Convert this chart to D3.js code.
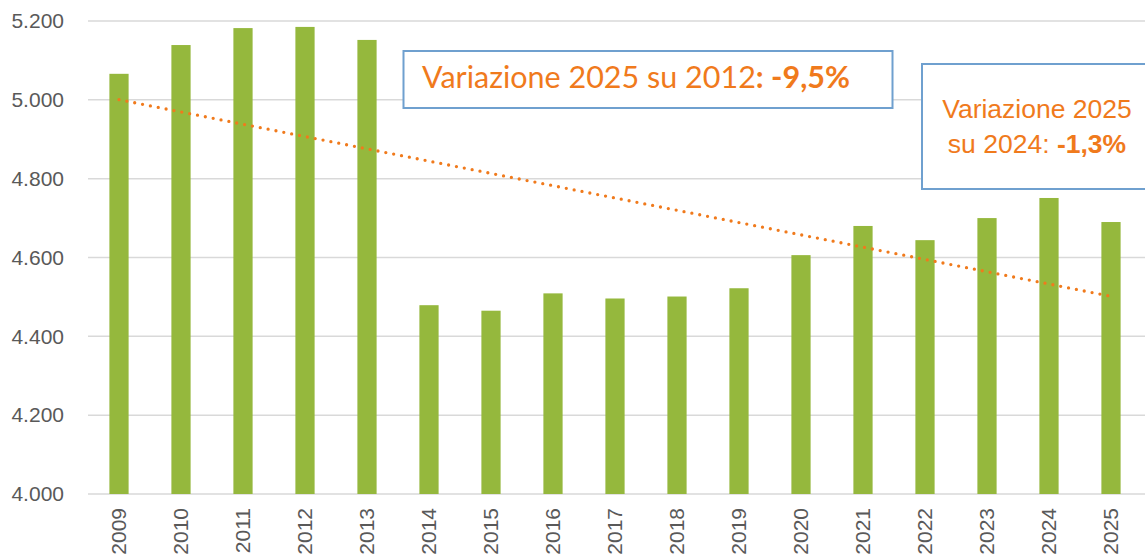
<!DOCTYPE html>
<html><head><meta charset="utf-8">
<script src="https://cdn.jsdelivr.net/npm/d3@7"></script>
<style>body{margin:0;background:#fff}svg{display:block}</style>
</head><body>
<svg id="c" width="1145" height="557"></svg>
<script>
const years = ["2009","2010","2011","2012","2013","2014","2015","2016","2017","2018","2019","2020","2021","2022","2023","2024","2025"];
const values = [5066,5139,5182,5185,5152,4479,4465,4509,4496,4501,4522,4606,4680,4644,4700,4751,4690];
const yTicks = [4000,4200,4400,4600,4800,5000,5200];
const note1 = ["Variazione 2025 su 2012", ": -9,5%"];
const note2 = ["Variazione 2025", "su 2024: ", "-1,3%"];

const W = 1145, H = 557;
const svg = d3.select("#c");
const x = d3.scaleBand().domain(years).range([88, 1142]).paddingInner(0.69).paddingOuter(0.345);
const y = d3.scaleLinear().domain([4000, 5200]).range([494, 21]);
const loc = d3.formatLocale({decimal: ",", thousands: ".", grouping: [3], currency: ["", "€"]});
const fmt = loc.format(",.0f");

// gridlines
svg.append("g").selectAll("line").data(yTicks).join("line")
  .attr("x1", 88).attr("x2", W).attr("y1", d => y(d)).attr("y2", d => y(d))
  .attr("stroke", "#d9d9d9").attr("stroke-width", 1.5);

// y axis labels
const yAxis = d3.axisLeft(y).tickValues(yTicks).tickFormat(fmt).tickSize(0).tickPadding(0);
const ya = svg.append("g").attr("transform", "translate(64,0)").call(yAxis);
ya.select(".domain").remove();
ya.selectAll("text").attr("font-family", "Liberation Sans, Arial, sans-serif").attr("font-size", 21).attr("fill", "#595959");

// bars
svg.append("g").selectAll("rect").data(values).join("rect")
  .attr("x", (d, i) => x(years[i])).attr("width", x.bandwidth())
  .attr("y", d => y(d)).attr("height", d => y(4000) - y(d))
  .attr("fill", "#95b83d");

// x axis labels
const xAxis = d3.axisBottom(x).tickSize(0).tickPadding(0);
const xa = svg.append("g").attr("transform", "translate(0,494)").call(xAxis);
xa.select(".domain").remove();
xa.selectAll("text").attr("font-family", "Liberation Sans, Arial, sans-serif").attr("font-size", 21).attr("fill", "#595959")
  .attr("transform", "rotate(-90)").attr("text-anchor", "end").attr("dy", "0.35em").attr("x", -14).attr("y", 0);

// linear trend line (least squares over bar values)
const n = values.length;
const xm = (n - 1) / 2, ym = d3.mean(values);
const slope = d3.sum(values, (v, i) => (i - xm) * (v - ym)) / d3.sum(values, (v, i) => (i - xm) ** 2);
const trend = i => ym + slope * (i - xm);
const cx = i => x(years[i]) + x.bandwidth() / 2;
svg.append("line")
  .attr("x1", cx(0)).attr("y1", y(trend(0))).attr("x2", cx(n - 1)).attr("y2", y(trend(n - 1)))
  .attr("stroke", "#f07a1c").attr("stroke-width", 3.3).attr("stroke-linecap", "round").attr("stroke-dasharray", "0 8");

// note boxes
svg.append("rect").attr("x", 403.5).attr("y", 51).attr("width", 489).attr("height", 57)
  .attr("fill", "#fff").attr("stroke", "#6fa0cf").attr("stroke-width", 2);
const t1 = svg.append("text").attr("x", 422).attr("y", 88).attr("font-family", "Lato, sans-serif").attr("font-size", 30.5).attr("fill", "#f07a1c");
t1.append("tspan").text(note1[0]);
t1.append("tspan").attr("font-weight", "bold").text(note1[1]);

svg.append("rect").attr("x", 922).attr("y", 64).attr("width", 240).attr("height", 125)
  .attr("fill", "#fff").attr("stroke", "#6fa0cf").attr("stroke-width", 2);
const g2 = svg.append("g").attr("font-family", "Liberation Sans Narrow, Liberation Sans, sans-serif").attr("font-size", 26.5).attr("fill", "#f07a1c").attr("text-anchor", "middle");
g2.append("text").attr("x", 1037).attr("y", 118).text(note2[0]);
const t2 = g2.append("text").attr("x", 1037).attr("y", 153);
t2.append("tspan").text(note2[1]);
t2.append("tspan").attr("font-weight", "bold").text(note2[2]);
</script>
</body></html>
